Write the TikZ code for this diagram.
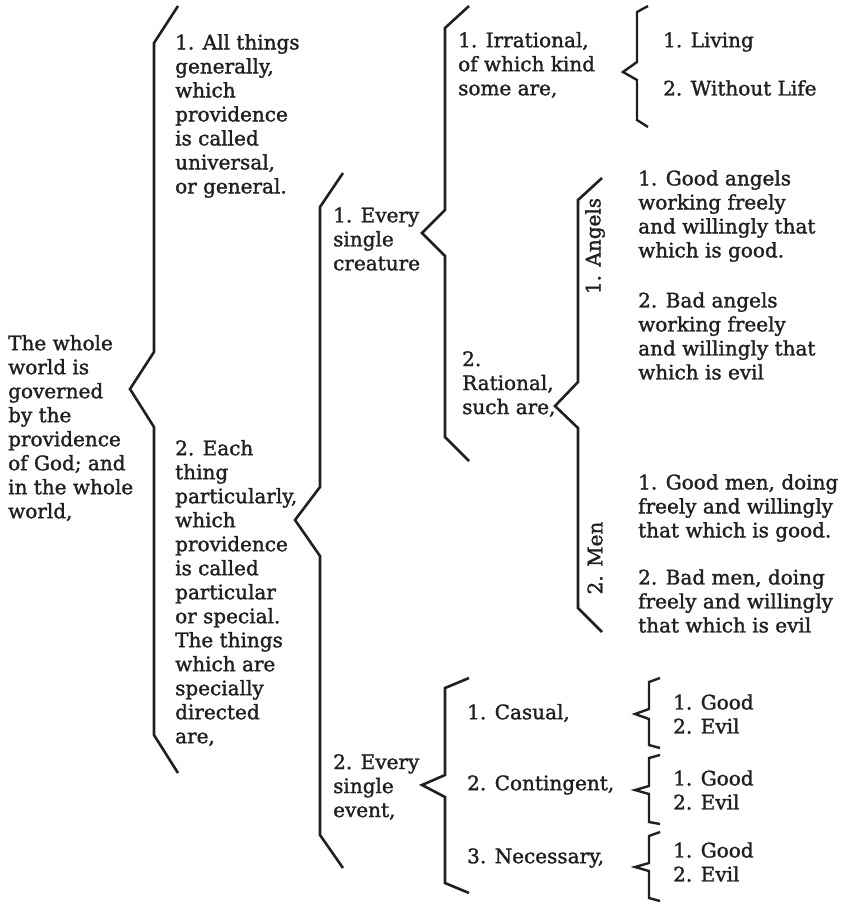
\documentclass[tikz,border=0pt]{standalone}
\usepackage{fontspec}
\setmainfont{DejaVu Serif}[FakeBold=1.5]
\usepackage{xcolor}
\usepackage{tikz}
\usetikzlibrary{positioning,calc}
\definecolor{inkgray}{HTML}{231F20}
\tikzset{
  chartfont/.style={font=\fontsize{20}{24}\selectfont},
  chartlabel/.style={align=left, inner sep=0pt, anchor=west, text=inkgray},
  chartbrace/.style={line width=2.6pt, draw=inkgray, line join=miter},
  chartbracesmall/.style={chartbrace, line width=2.4pt},
}

\begin{document}
\begin{tikzpicture}[chartfont, x=1pt, y=-1pt]
  \useasboundingbox (0,0) rectangle (851,903);

  % Root text
  \node[chartlabel] (world) at (8,428) {The whole\\world is\\governed\\by the\\providence\\of God; and\\in the whole\\world,};

  % First level
  \node[chartlabel] (general) at (175,116) {1. All things\\generally,\\which\\providence\\is called\\universal,\\or general.};
  \node[chartlabel] (special) at (175,593) {2. Each\\thing\\particularly,\\which\\providence\\is called\\particular\\or special.\\The things\\which are\\specially\\directed\\are,};

  % Second level
  \node[chartlabel] (creature) at (333,239) {1. Every\\single\\creature};
  \node[chartlabel] (event) at (333,787) {2. Every\\single\\event,};

  % Creatures
  \node[chartlabel] (irrational) at (458,65) {1. Irrational,\\of which kind\\some are,};
  \node[chartlabel] (rational) at (462,384) {2.\\Rational,\\such are,};
  \node[chartlabel] (living) at (663,42) {1. Living};
  \node[chartlabel] (lifeless) at (663,88) {2. Without Life};

  % Angels and men
  \node[chartlabel, anchor=center, rotate=90] (angels) at (595,246) {1. Angels};
  \node[chartlabel, anchor=center, rotate=90] (men) at (595,558) {2. Men};
  \node[chartlabel] (goodangels) at (638,216) {1. Good angels\\working freely\\and willingly that\\which is good.};
  \node[chartlabel] (badangels) at (638,336) {2. Bad angels\\working freely\\and willingly that\\which is evil};
  \node[chartlabel] (goodmen) at (638,508) {1. Good men, doing\\freely and willingly\\that which is good.};
  \node[chartlabel] (badmen) at (638,601) {2. Bad men, doing\\freely and willingly\\that which is evil};

  % Events
  \node[chartlabel] (casual) at (467,713) {1. Casual,};
  \node[chartlabel] (contingent) at (467,785) {2. Contingent,};
  \node[chartlabel] (necessary) at (467,858) {3. Necessary,};
  \node[chartlabel] (casualge) at (673,714) {1. Good\\2. Evil};
  \node[chartlabel] (contingentge) at (673,790) {1. Good\\2. Evil};
  \node[chartlabel] (necessaryge) at (673,862) {1. Good\\2. Evil};

  % Large brackets
  \draw[chartbrace] (178,6) -- (154,43) -- (154,352) -- (130,389) -- (154,427) -- (154,735) -- (178,773);
  \draw[chartbrace] (343,173) -- (320,207) -- (320,487) -- (295,520) -- (320,556) -- (320,835) -- (343,868);
  \draw[chartbrace] (469,6) -- (445,28) -- (445,210) -- (422,233) -- (445,256) -- (445,437) -- (469,461);
  \draw[chartbrace] (602,178) -- (578,200) -- (578,382) -- (555,406) -- (578,428) -- (578,608) -- (602,632);
  \draw[chartbrace] (469,678) -- (445,688) -- (445,775) -- (422,785) -- (445,797) -- (445,883) -- (469,893);

  % Small brackets
  \draw[chartbracesmall] (648,6) -- (637,12) -- (637,62) -- (623,72) -- (637,80) -- (637,120) -- (648,127);
  \draw[chartbracesmall] (660,678) -- (649,682) -- (649,709) -- (635,714) -- (649,719) -- (649,745) -- (660,748);
  \draw[chartbracesmall] (660,755) -- (649,758) -- (649,786) -- (635,790) -- (649,794) -- (649,822) -- (660,824);
  \draw[chartbracesmall] (660,832) -- (649,836) -- (649,863) -- (635,867) -- (649,871) -- (649,898) -- (660,901);
\end{tikzpicture}
\end{document}
